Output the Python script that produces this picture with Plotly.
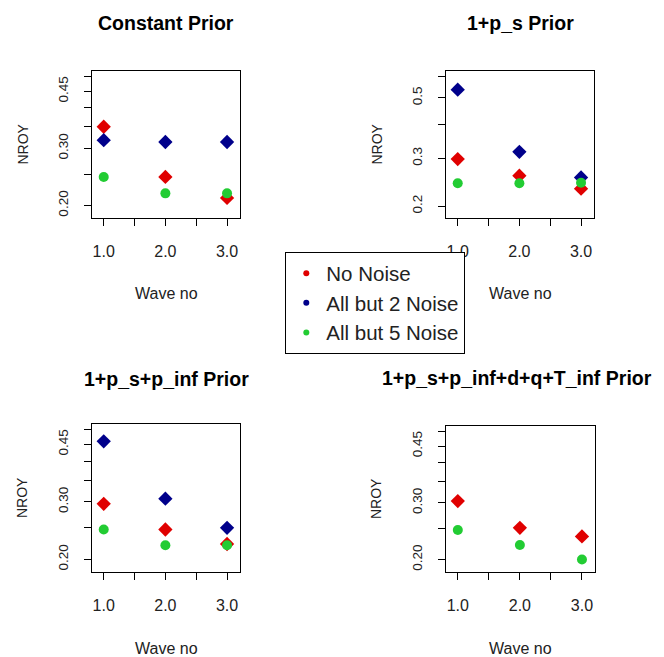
import numpy as np
import plotly.graph_objects as go

waves = [1, 2, 3]
series_names = ["No Noise", "All but 2 Noise", "All but 5 Noise"]
series_colors = ["#E00000", "#00008B", "#22CC33"]
series_symbols = ["diamond", "diamond", "circle"]

panel_titles = ["Constant Prior", "1+p_s Prior", "1+p_s+p_inf Prior", "1+p_s+p_inf+d+q+T_inf Prior"]

# NROY values per panel: [No Noise, All but 2 Noise, All but 5 Noise]
constant_prior = [[0.350, 0.245, 0.211], [0.318, 0.314, 0.314], [0.245, 0.218, 0.218]]
ps_prior = [[0.298, 0.259, 0.232], [0.536, 0.317, 0.255], [0.243, 0.243, 0.244]]
ps_pinf_prior = [[0.296, 0.247, 0.223], [0.460, 0.307, 0.250], [0.247, 0.221, 0.221]]
full_prior = [[0.304, 0.251, 0.236], [None, None, None], [0.247, 0.222, 0.200]]
panels = [constant_prior, ps_prior, ps_pinf_prior, full_prior]

x_tickvals = [1, 1.5, 2, 2.5, 3]
x_ticktext = ["1.0", "", "2.0", "", "3.0"]
y_tickvals_a = [0.20, 0.25, 0.30, 0.35, 0.40, 0.45, 0.50]
y_ticktext_a = ["0.20", "", "0.30", "", "", "0.45", ""]
y_tickvals_b = [0.2, 0.3, 0.4, 0.5, 0.6]
y_ticktext_b = ["0.2", "0.3", "", "0.5", ""]

OFF = 8  # page body margin
W, H = 664 - OFF, 657 - OFF
# plot boxes in page pixels (left, right, top, bottom)
boxes = [(92, 240, 71, 218), (446, 594, 71, 218), (92, 240, 424, 572), (446, 595, 426, 572)]
title_gap = [48, 48, 45, 48]
title_cx = [166, 520, 166, 517]
yranges = [(0.183, 0.52), (0.181, 0.628), (0.183, 0.52), (0.183, 0.52)]
yticks = [(y_tickvals_a, y_ticktext_a), (y_tickvals_b, y_ticktext_b),
          (y_tickvals_a, y_ticktext_a), (y_tickvals_a, y_ticktext_a)]


def px(x):
    return (x - OFF) / W


def py(y):
    return 1 - (y - OFF) / H


fig = go.Figure()
FONT = "Liberation Sans, Arial, sans-serif"
TXT = "#222"
annotations = []
for i, (data, box) in enumerate(zip(panels, boxes)):
    ax = "" if i == 0 else str(i + 1)
    for s in range(3):
        fig.add_trace(go.Scatter(
            x=waves, y=data[s], mode="markers",
            marker=dict(color=series_colors[s], symbol=series_symbols[s], size=11 if s < 2 else 10,
                        line=dict(width=0)),
            showlegend=False, xaxis="x" + ax, yaxis="y" + ax, hoverinfo="skip"))
    l, r, t, b = box
    common = dict(showline=True, linecolor="black", linewidth=1.3, mirror=True,
                  ticks="outside", ticklen=7, tickwidth=1.2, tickcolor="black",
                  showgrid=False, zeroline=False)
    fig.update_layout(**{
        "xaxis" + ax: dict(domain=[px(l), px(r)], range=[0.81, 3.21], tickvals=x_tickvals, ticktext=x_ticktext,
                           anchor="y" + ax, ticklabelstandoff=12,
                           tickfont=dict(family=FONT, size=16, color=TXT), **common),
        "yaxis" + ax: dict(domain=[py(b), py(t)], type="log",
                           range=[np.log10(yranges[i][0]), np.log10(yranges[i][1])],
                           tickvals=yticks[i][0], ticktext=yticks[i][1], tickangle=-90,
                           anchor="x" + ax, ticklabelstandoff=10,
                           tickfont=dict(family=FONT, size=13.5, color=TXT), **common),
    })
    cx = (l + r) / 2
    annotations.append(dict(text="<b>" + panel_titles[i] + "</b>", x=px(title_cx[i]), y=py(t - title_gap[i]),
                            xref="paper", yref="paper", showarrow=False, xanchor="center", yanchor="middle",
                            font=dict(family=FONT, size=19.5, color="black")))
    annotations.append(dict(text="Wave no", x=px(cx), y=py(b + 76), xref="paper", yref="paper",
                            showarrow=False, xanchor="center", yanchor="middle",
                            font=dict(family=FONT, size=16, color=TXT)))
    annotations.append(dict(text="NROY", x=px(l - 70), y=py((t + b) / 2), xref="paper", yref="paper",
                            showarrow=False, xanchor="center", yanchor="middle", textangle=-90,
                            font=dict(family=FONT, size=14, color=TXT)))

for s in range(3):
    fig.add_trace(go.Scatter(x=[None], y=[None], mode="markers", name=series_names[s],
                             marker=dict(color=series_colors[s], symbol="circle", size=6),
                             showlegend=True))

fig.update_layout(
    width=W, height=H, margin=dict(l=0, r=0, t=0, b=0),
    paper_bgcolor="white", plot_bgcolor="white",
    annotations=annotations,
    legend=dict(x=px(285), y=py(252), xanchor="left", yanchor="top",
                bgcolor="white", bordercolor="black", borderwidth=1.3,
                font=dict(family=FONT, size=20.5, color=TXT), tracegroupgap=0,
                itemwidth=30),
)
fig.write_html("out.html")
